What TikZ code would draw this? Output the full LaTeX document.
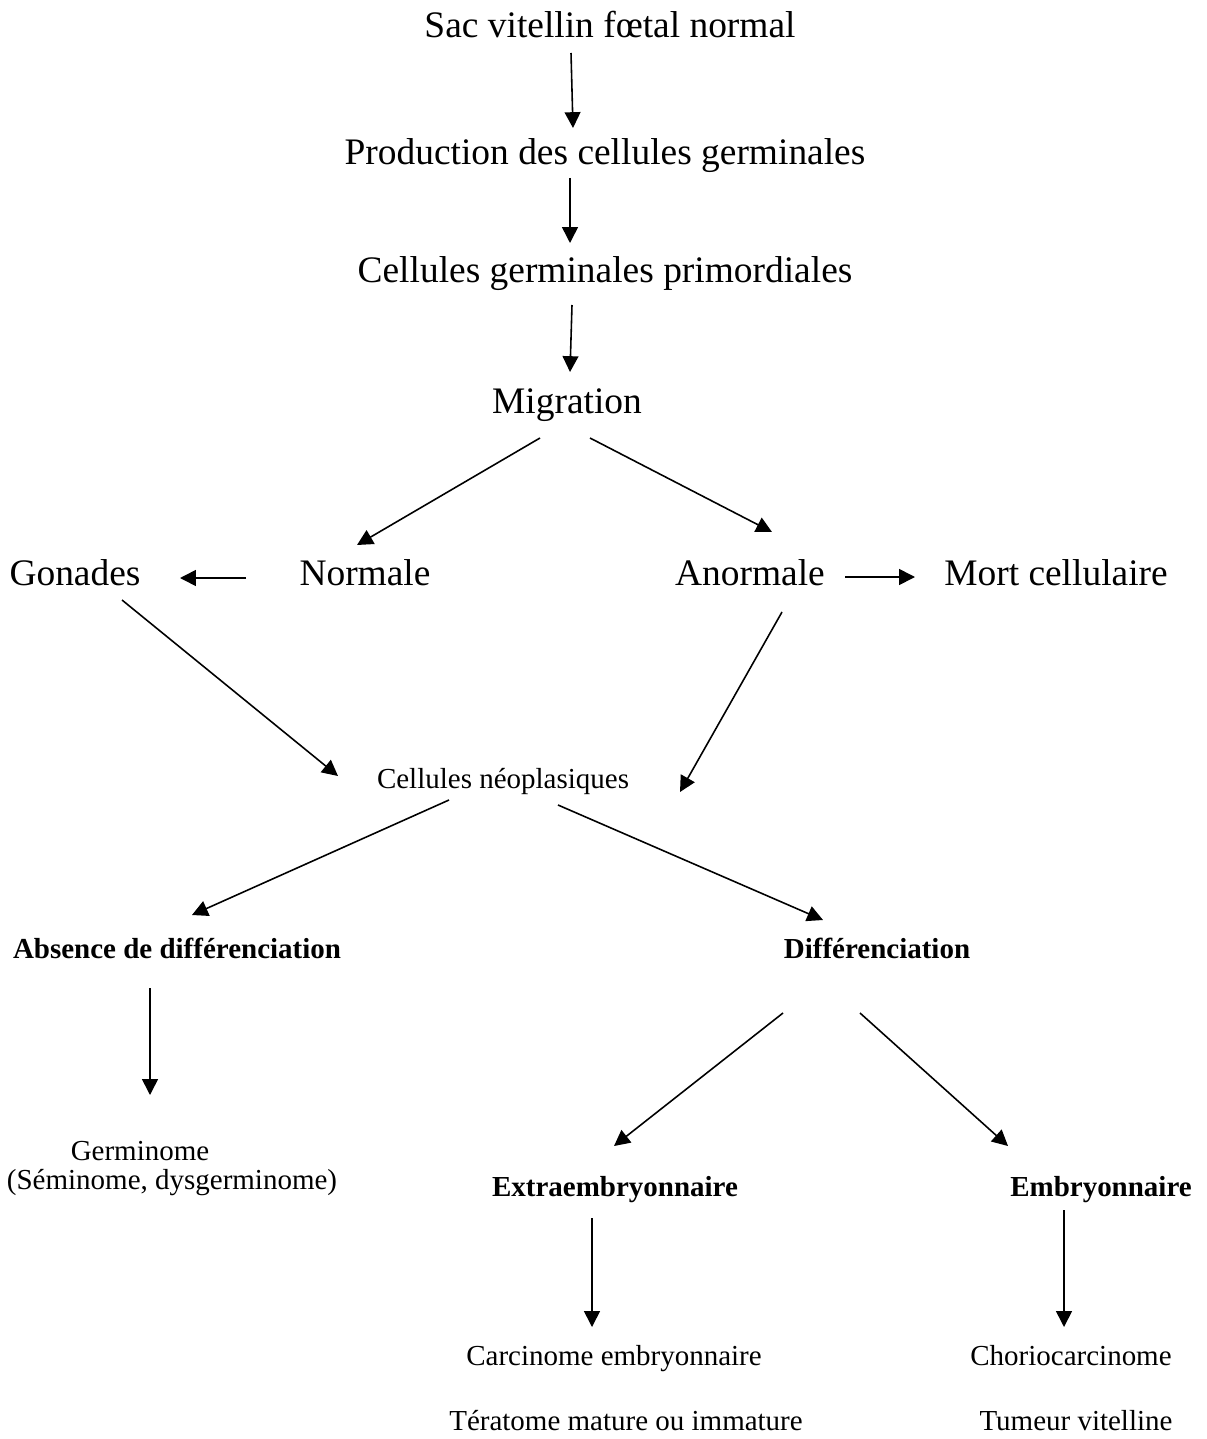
\documentclass[tikz,border=0pt]{standalone}
\usepackage{fontspec}
\setmainfont{Liberation Serif}
\usetikzlibrary{arrows.meta}
\newcommand{\grand}{\fontsize{21.3}{25}\selectfont}
\newcommand{\petit}{\fontsize{16.5}{19.5}\selectfont}

\begin{document}
\begin{tikzpicture}[x=0.02cm,y=-0.02cm,
    every node/.style={anchor=base,inner sep=0pt},
    lvl/.style={font=\grand},
    sub/.style={font=\petit},
    hd/.style={font=\petit\bfseries},
    arr/.style={-{Triangle[length=9pt,width=9pt]},line width=0.9pt}]
      \useasboundingbox (0,0) rectangle (1206,1439);

      \node [lvl] (sac) at (610,38) {Sac vitellin fœtal normal};
      \node [lvl] (prod) at (605,165) {Production des cellules germinales};
      \node [lvl] (prim) at (605,283) {Cellules germinales primordiales};
      \node [lvl] (migr) at (567,413) {Migration};
      \node [lvl] (gon) at (75,585) {Gonades};
      \node [lvl] (norm) at (365,585) {Normale};
      \node [lvl] (anorm) at (750,585) {Anormale};
      \node [lvl] (mort) at (1056,585) {Mort cellulaire};
      \node [sub] (neo) at (503,788) {Cellules néoplasiques};
      \node [hd] (abs) at (177,958) {Absence de différenciation};
      \node [hd] (diff) at (877,958) {Différenciation};
      \node [sub] (germ) at (140,1160) {Germinome};
      \node [sub] (sem) at (172,1189) {(Séminome, dysgerminome)};
      \node [hd] (extra) at (615,1196) {Extraembryonnaire};
      \node [hd] (embr) at (1101,1196) {Embryonnaire};
      \node [sub] (carc) at (614,1365) {Carcinome embryonnaire};
      \node [sub] (terat) at (626,1430) {Tératome mature ou immature};
      \node [sub] (chor) at (1071,1365) {Choriocarcinome};
      \node [sub] (tum) at (1076,1430) {Tumeur vitelline};

      \draw[arr] ([shift={(-39,15)}]sac.base) -- ([shift={(-32,-37)}]prod.base);
      \draw[arr] ([shift={(-35,13)}]prod.base) -- ([shift={(-35,-40)}]prim.base);
      \draw[arr] ([shift={(-33,22)}]prim.base) -- ([shift={(3,-41)}]migr.base);
      \draw[arr] ([shift={(-27,25)}]migr.base) -- ([shift={(-8,-40)}]norm.base);
      \draw[arr] ([shift={(23,25)}]migr.base) -- ([shift={(22,-53)}]anorm.base);
      \draw[arr] ([shift={(-119,-7)}]norm.base) -- ([shift={(105,-7)}]gon.base);
      \draw[arr] ([shift={(95,-8)}]anorm.base) -- ([shift={(-141,-8)}]mort.base);
      \draw[arr] ([shift={(47,15)}]gon.base) -- ([shift={(-165,-12)}]neo.base);
      \draw[arr] ([shift={(32,27)}]anorm.base) -- ([shift={(177,4)}]neo.base);
      \draw[arr] ([shift={(-54,12)}]neo.base) -- ([shift={(15,-43)}]abs.base);
      \draw[arr] ([shift={(55,17)}]neo.base) -- ([shift={(-54,-38)}]diff.base);
      \draw[arr] ([shift={(-27,30)}]abs.base) -- ([shift={(10,-65)}]germ.base);
      \draw[arr] ([shift={(-94,55)}]diff.base) -- ([shift={(-1,-50)}]extra.base);
      \draw[arr] ([shift={(-17,55)}]diff.base) -- ([shift={(-93,-50)}]embr.base);
      \draw[arr] ([shift={(-23,22)}]extra.base) -- ([shift={(-22,-38)}]carc.base);
      \draw[arr] ([shift={(-37,14)}]embr.base) -- ([shift={(-7,-38)}]chor.base);
    \end{tikzpicture}
\end{document}
